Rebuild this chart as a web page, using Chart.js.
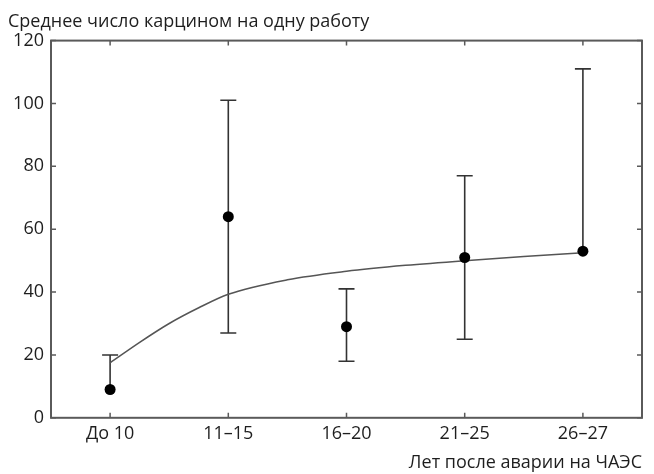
<!DOCTYPE html>
<html>
<head>
<meta charset="utf-8">
<script src="https://cdn.jsdelivr.net/npm/chart.js@4.4.0/dist/chart.umd.min.js"></script>
<style>
  html, body { margin: 0; padding: 0; background: #fff; }
  #wrap { width: 654px; height: 474px; }
</style>
</head>
<body>
<div id="wrap"><canvas id="chart"></canvas></div>
<script>
// data
const categories = ['До 10', '11–15', '16–20', '21–25', '26–27'];
const meanValues = [9, 64, 29, 51, 53];
const errLow     = [9, 27, 18, 25, 53];
const errHigh    = [20, 101, 41, 77, 111];
// fitted curve, read at positions along the category axis (0 = "До 10")
const fitX = [0, 0.25, 0.5, 0.75, 1, 1.5, 2, 2.5, 3, 3.5, 4];
const fitY = [17.5, 24, 30, 35, 39.3, 43.9, 46.6, 48.5, 50, 51.3, 52.5];
const yMin = 0, yMax = 120, yStep = 20;

const INK = '#1e1e1e';
const FRAME = '#5a5a5a';

// error bars, drawn under the dots
const errorBars = {
    id: 'errorBars',
    beforeDatasetsDraw(chart) {
        const { ctx, scales: { x, y } } = chart;
        const cap = 8;
        ctx.save();
        ctx.strokeStyle = '#333';
        ctx.lineWidth = 1.6;
        categories.forEach((c, i) => {
            const px = x.getPixelForValue(i);
            const hi = y.getPixelForValue(errHigh[i]);
            const lo = y.getPixelForValue(errLow[i]);
            ctx.beginPath();
            ctx.moveTo(px, hi); ctx.lineTo(px, lo);
            ctx.moveTo(px - cap, hi); ctx.lineTo(px + cap, hi);
            if (errLow[i] !== meanValues[i]) {
                ctx.moveTo(px - cap, lo); ctx.lineTo(px + cap, lo);
            }
            ctx.stroke();
        });
        ctx.restore();
    }
};

// box frame with inward tick marks on all four sides
const frame = {
    id: 'frame',
    afterDraw(chart) {
        const { ctx, chartArea: a, scales: { x, y } } = chart;
        const t = 5;
        ctx.save();
        ctx.strokeStyle = FRAME;
        ctx.lineWidth = 2;
        ctx.strokeRect(a.left, a.top, a.right - a.left, a.bottom - a.top);
        ctx.lineWidth = 1.5;
        ctx.beginPath();
        x.ticks.forEach((tk, i) => {
            const px = x.getPixelForTick(i);
            ctx.moveTo(px, a.bottom); ctx.lineTo(px, a.bottom - t);
            ctx.moveTo(px, a.top); ctx.lineTo(px, a.top + t);
        });
        y.ticks.forEach((tk, i) => {
            const py = y.getPixelForTick(i);
            ctx.moveTo(a.left, py); ctx.lineTo(a.left + t, py);
            ctx.moveTo(a.right, py); ctx.lineTo(a.right - t, py);
        });
        ctx.stroke();
        ctx.restore();
    }
};

Chart.defaults.font.family = '"Open Sans", "Noto Sans", sans-serif';
Chart.defaults.font.size = 18;
Chart.defaults.color = INK;

new Chart(document.getElementById('chart'), {
    type: 'line',
    data: {
        labels: categories,
        datasets: [
            {
                label: 'Аппроксимация',
                data: fitX.map((v, i) => ({ x: v, y: fitY[i] })),
                xAxisID: 'xFit',
                borderColor: '#555',
                borderWidth: 1.5,
                pointRadius: 0,
                cubicInterpolationMode: 'monotone',
                fill: false,
                order: 2
            },
            {
                label: 'Среднее',
                data: meanValues,
                xAxisID: 'x',
                showLine: false,
                pointRadius: 5.5,
                pointBackgroundColor: '#000',
                pointBorderColor: '#000',
                pointBorderWidth: 0,
                order: 1
            }
        ]
    },
    options: {
        responsive: true,
        maintainAspectRatio: false,
        animation: false,
        layout: { padding: { left: 8, right: 12, bottom: 0 } },
        plugins: {
            legend: { display: false },
            tooltip: { enabled: false },
            title: {
                display: true,
                text: 'Среднее число карцином на одну работу',
                align: 'start',
                color: INK,
                font: { size: 18, weight: 'normal' },
                padding: { top: 11, bottom: 8 }
            }
        },
        scales: {
            x: {
                offset: true,
                grid: { display: false, drawTicks: false },
                border: { display: false },
                ticks: { padding: 5, color: INK, maxRotation: 0 },
                title: {
                    display: true,
                    text: 'Лет после аварии на ЧАЭС',
                    align: 'end',
                    color: INK,
                    font: { size: 18 },
                    padding: { top: 3, bottom: 0 }
                }
            },
            xFit: {
                type: 'linear',
                display: false,
                min: -0.5,
                max: categories.length - 0.5
            },
            y: {
                min: yMin,
                max: yMax,
                grid: { display: false, drawTicks: false },
                border: { display: false },
                ticks: { stepSize: yStep, padding: 7, color: INK },
                afterFit(s) { s.width = 43; }
            }
        }
    },
    plugins: [errorBars, frame]
});
</script>
</body>
</html>
